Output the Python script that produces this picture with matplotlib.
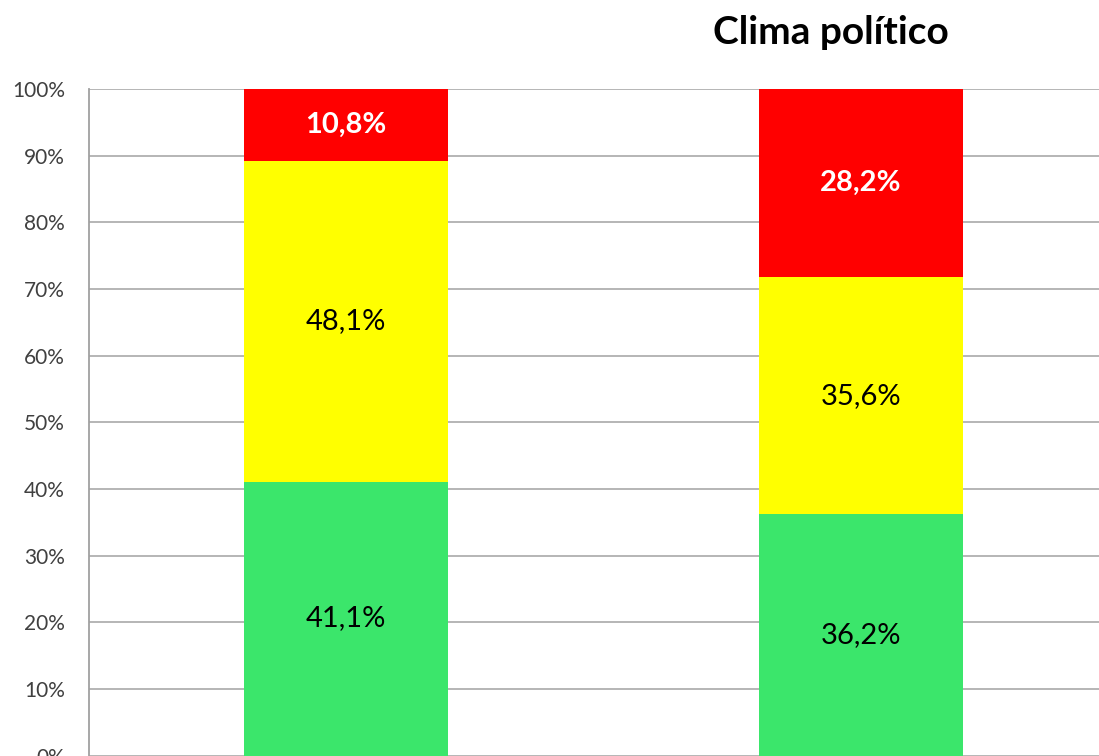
import numpy as np
import matplotlib
matplotlib.use("Agg")
import matplotlib.pyplot as plt
from matplotlib.ticker import PercentFormatter

# stacked shares per group (percent), bottom to top
groups = ["A", "B"]
verde = [41.1, 36.2]
amarelo = [48.1, 35.6]
vermelho = [10.8, 28.2]

series = [
    (verde, "#3be66b", "black", "normal"),
    (amarelo, "#ffff00", "black", "normal"),
    (vermelho, "#ff0000", "white", "bold"),
]

plt.rcParams["font.family"] = ["Lato", "DejaVu Sans"]

fig = plt.figure(figsize=(10.99, 7.56), dpi=100)
ax = fig.add_axes([88.5 / 1099, 0.5 / 756, 1030 / 1099, 666.5 / 756])

x = np.arange(len(groups))
bottom = np.zeros(len(groups))
for vals, color, txt_color, weight in series:
    vals = np.array(vals)
    ax.bar(x, vals, width=0.398, bottom=bottom, color=color, zorder=2)
    for xi, b, v in zip(x, bottom, vals):
        ax.text(xi, b + v / 2, f"{v:.1f}%".replace(".", ","),
                ha="center", va="center", fontsize=21,
                color=txt_color, fontweight=weight, zorder=3)
    bottom += vals

ax.set_xlim(-0.5, 1.5)
ax.set_ylim(0, 100)
ax.set_yticks(np.arange(0, 101, 10))
ax.yaxis.set_major_formatter(PercentFormatter(decimals=0))
ax.tick_params(axis="y", length=0, pad=17, labelsize=15, labelcolor="#404040")
ax.set_xticks([])
ax.grid(axis="y", color="#b0b0b0", linewidth=1.3, zorder=0)
for side in ["top", "right", "bottom"]:
    ax.spines[side].set_visible(False)
ax.spines["left"].set_color("#a0a0a0")
ax.spines["left"].set_linewidth(1.3)

fig.text(831 / 1099, 1 - 33 / 756, "Clima político", ha="center", va="center",
         fontsize=28, fontweight="bold", color="black")

fig.savefig("out.png", dpi=100)
